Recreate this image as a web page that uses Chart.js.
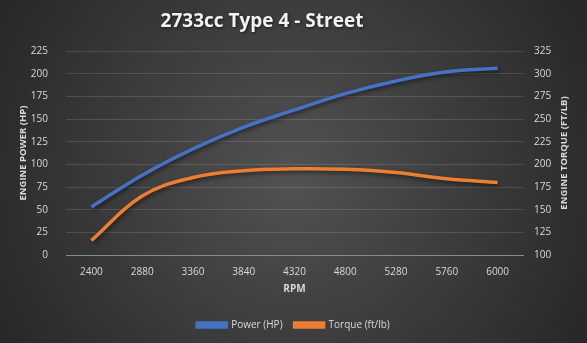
<!DOCTYPE html>
<html>
<head>
<meta charset="utf-8">
<script src="https://cdn.jsdelivr.net/npm/chart.js@4.4.1/dist/chart.umd.min.js"></script>
<style>
html, body { margin: 0; padding: 0; background: #2a2a2a; }
</style>
</head>
<body>
<canvas id="myChart" width="587" height="343"></canvas>
<script>
var chartTitle = "2733cc Type 4 - Street";
var rpmLabels = ["2400", "2880", "3360", "3840", "4320", "4800", "5280", "5760", "6000"];
var powerHp = [53, 88, 117, 141, 160, 178, 192, 202, 206];
var torqueFtLb = [116, 165, 185.5, 193, 195, 194.5, 191, 184, 180];
var powerAxis = [0, 225, 25];    // min, max, step
var torqueAxis = [100, 325, 25];

var blue = "#4472C4";
var orange = "#ED7D31";
var textColor = "#d9d9d9";
var font = "'Open Sans', 'Liberation Sans', sans-serif";

// fond gris en dégradé radial
var bgPlugin = {
  id: "bg",
  beforeDraw: function(chart) {
    var ctx = chart.ctx;
    var g = ctx.createRadialGradient(293, 175, 0, 293, 175, 330);
    g.addColorStop(0, "#525252");
    g.addColorStop(1, "#282828");
    ctx.save();
    ctx.fillStyle = g;
    ctx.fillRect(0, 0, chart.width, chart.height);
    ctx.restore();
  }
};

// ombre sous les courbes
var shadowPlugin = {
  id: "shadow",
  beforeDatasetDraw: function(chart) {
    var ctx = chart.ctx;
    ctx.save();
    ctx.shadowColor = "rgba(0,0,0,0.55)";
    ctx.shadowBlur = 4;
    ctx.shadowOffsetX = 1;
    ctx.shadowOffsetY = 2;
  },
  afterDatasetDraw: function(chart) {
    chart.ctx.restore();
  }
};

// titre et titre de l'axe droit (lu de bas en haut)
var textPlugin = {
  id: "texts",
  afterDraw: function(chart) {
    var ctx = chart.ctx;
    ctx.save();
    ctx.fillStyle = "#f2f2f2";
    ctx.shadowColor = "rgba(0,0,0,0.6)";
    ctx.shadowBlur = 3;
    ctx.shadowOffsetX = 1;
    ctx.shadowOffsetY = 1;
    ctx.font = "bold 19px " + font;
    ctx.textAlign = "center";
    ctx.textBaseline = "middle";
    ctx.fillText(chartTitle, 262, 22);
    ctx.restore();

    var area = chart.chartArea;
    ctx.save();
    ctx.translate(564, (area.top + area.bottom) / 2);
    ctx.rotate(-Math.PI / 2);
    ctx.fillStyle = textColor;
    ctx.font = "bold 9.5px " + font;
    ctx.textAlign = "center";
    ctx.textBaseline = "middle";
    ctx.fillText("ENGINE TORQUE (FT/LB)", 0, 0);
    ctx.restore();
  }
};

new Chart("myChart", {
  type: "line",
  data: {
    labels: rpmLabels,
    datasets: [{
      label: "Power (HP)",
      data: powerHp,
      borderColor: blue,
      backgroundColor: blue,
      borderWidth: 3.5,
      pointRadius: 0,
      tension: 0.4,
      yAxisID: "y"
    }, {
      label: "Torque (ft/lb)",
      data: torqueFtLb,
      borderColor: orange,
      backgroundColor: orange,
      borderWidth: 3.5,
      pointRadius: 0,
      tension: 0.4,
      yAxisID: "y1"
    }]
  },
  options: {
    responsive: false,
    animation: false,
    layout: { padding: { top: 51, bottom: 3, left: 0, right: 0 } },
    plugins: {
      title: { display: false },
      tooltip: { enabled: false },
      legend: {
        position: "bottom",
        labels: {
          color: textColor,
          font: { family: font, size: 10 },
          boxWidth: 29,
          boxHeight: 4,
          padding: 12
        }
      }
    },
    scales: {
      x: {
        offset: true,
        grid: { display: false },
        border: { color: "#8a8a8a", width: 1 },
        ticks: { color: textColor, font: { family: font, size: 10 }, padding: 3, maxRotation: 0 },
        title: { display: true, text: "RPM", color: textColor, font: { family: font, size: 10, weight: "bold" }, padding: { top: 0, bottom: 13 } },
        afterFit: function(scale) { scale.height = 53; }
      },
      y: {
        position: "left",
        min: powerAxis[0], max: powerAxis[1],
        ticks: { stepSize: powerAxis[2], color: textColor, font: { family: font, size: 10 }, padding: 18 },
        grid: { color: "rgba(255,255,255,0.13)", drawTicks: false },
        border: { display: false },
        title: { display: true, text: "ENGINE POWER (HP)", color: textColor, font: { family: font, size: 9.5, weight: "bold" }, padding: { top: 18, bottom: 0 } },
        afterFit: function(scale) { scale.width = 66; }
      },
      y1: {
        position: "right",
        min: torqueAxis[0], max: torqueAxis[1],
        ticks: { stepSize: torqueAxis[2], color: textColor, font: { family: font, size: 10 }, padding: 11 },
        grid: { display: false, drawTicks: false },
        border: { display: false },
        afterFit: function(scale) { scale.width = 64; }
      }
    }
  },
  plugins: [bgPlugin, shadowPlugin, textPlugin]
});
</script>
</body>
</html>
